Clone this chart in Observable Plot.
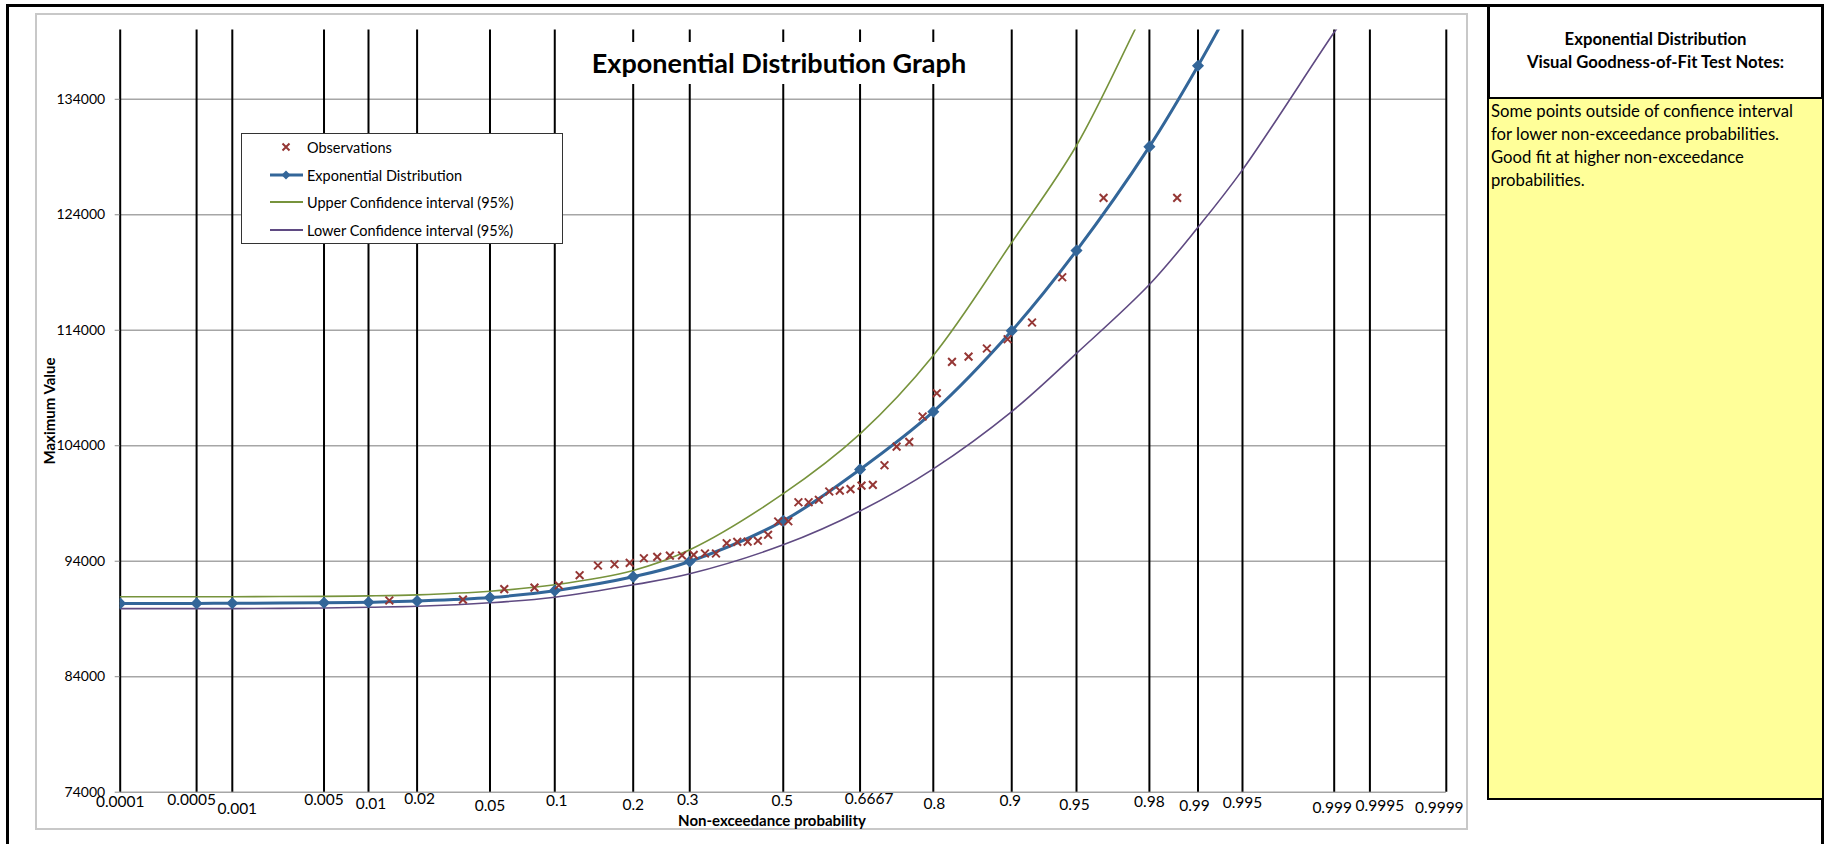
<!DOCTYPE html>
<html>
<head>
<meta charset="utf-8">
<script src="https://cdn.jsdelivr.net/npm/d3@7"></script>
<script src="https://cdn.jsdelivr.net/npm/@observablehq/plot@0.6"></script>
<style>
  html, body { margin: 0; padding: 0; background: #fff; }
  body { font-family: Lato, "Liberation Sans", sans-serif; color: #000; }
  #page { position: relative; width: 1825px; height: 844px; overflow: hidden; background: #fff; }
  #page > svg { position: absolute; left: 0; top: 0; }
  .abs { position: absolute; box-sizing: border-box; }
  .bar { position: absolute; background: #000; }
  #chartBorder { left: 35px; top: 13px; width: 1433px; height: 817px; border: 2px solid #c8c8c8; }
  #title { left: 576px; top: 42px; width: 406px; height: 42px; background: #fff;
           font-weight: 700; font-size: 27px; line-height: 42px; text-align: center; white-space: nowrap; }
  #legend { left: 241px; top: 133px; width: 322px; height: 111px; background: #fff; border: 1.5px solid #333; }
  .lrow { position: absolute; left: 28px; height: 20px; display: flex; align-items: center; font-size: 14.5px; white-space: nowrap; }
  .lrow svg { width: 35px; height: 20px; margin-right: 2px; flex: none; }
  #ytitle { left: 49px; top: 411px; transform: translate(-50%, -50%) rotate(-90deg); font-weight: 700; font-size: 15px; white-space: nowrap; }
  #xtitle { left: 772px; top: 820px; transform: translate(-50%, -50%); font-weight: 700; font-size: 15px; white-space: nowrap; }
  #notesHead { left: 1489px; top: 6px; width: 333px; height: 92px; font-weight: 700; font-size: 16.7px; text-align: center; line-height: 23px; padding-top: 22px; }
  #notes { left: 1489px; top: 99px; width: 333px; height: 699px; background: #ffff99; font-size: 16.7px; line-height: 23px; padding: 1px 0 0 2px; white-space: nowrap; }
</style>
</head>
<body>
<div id="page">
  <div class="abs" id="chartBorder"></div>
</div>
<script>
// Probability axis labels (non-exceedance probability, plotted on a normal-probability scale)
const tickLabels = ["0.0001", "0.0005", "0.001", "0.005", "0.01", "0.02", "0.05", "0.1", "0.2", "0.3",
  "0.5", "0.6667", "0.8", "0.9", "0.95", "0.98", "0.99", "0.995", "0.999", "0.9995", "0.9999"];

// Fitted exponential distribution quantiles at each labelled probability
const fitted = [90350, 90350, 90360, 90400, 90450, 90550, 90850, 91450, 92650, 93980,
  97500, 101950, 106950, 113950, 120900, 129900, 136900, 143900, null, null, null];

// 95% confidence bounds at the same probabilities
const upperCI = [90920, 90920, 90930, 90960, 91000, 91090, 91400, 91960, 93200, 94990,
  99850, 105030, 111810, 121600, 130000, 142500, 150000, null, null, null, null];
const lowerCI = [89900, 89900, 89900, 89950, 90020, 90100, 90400, 90880, 91960, 92910,
  95420, 98350, 102000, 106960, 112000, 117960, 122920, 127890, 139800, 144200, null];

// Observed annual maxima (sorted) and their plotting positions
const obsProb = [0.01357, 0.03620, 0.05882, 0.08145, 0.10407, 0.12670, 0.14932, 0.17195, 0.19457, 0.21719,
  0.23982, 0.26244, 0.28507, 0.30769, 0.33032, 0.35294, 0.37557, 0.39819, 0.42081, 0.44344,
  0.46606, 0.48869, 0.51131, 0.53394, 0.55656, 0.57919, 0.60181, 0.62443, 0.64706, 0.66968,
  0.69231, 0.71493, 0.73756, 0.76018, 0.78281, 0.80543, 0.82805, 0.85068, 0.87330, 0.89593,
  0.91855, 0.94118, 0.96380, 0.98643];
const obsValue = [90600, 90680, 91580, 91720, 91920, 92790, 93630, 93740, 93860, 94260,
  94380, 94480, 94500, 94550, 94670, 94670, 95560, 95680, 95700, 95770,
  96290, 97440, 97460, 99110, 99110, 99320, 100040, 100120, 100250, 100550,
  100610, 102310, 103930, 104340, 106530, 108550, 111260, 111720, 112420, 113220,
  114670, 118590, 125460, 125460];

const yTicks = [74000, 84000, 94000, 104000, 114000, 124000, 134000];

// Inverse of the standard normal CDF (Acklam's rational approximation)
function probit(p) {
  const a = [-39.69683028665376, 220.9460984245205, -275.9285104469687, 138.3577518672690, -30.66479806614716, 2.506628277459239];
  const b = [-54.47609879822406, 161.5858368580409, -155.6989798598866, 66.80131188771972, -13.28068155288572];
  const c = [-0.007784894002430293, -0.3223964580411365, -2.400758277161838, -2.549671664073906, 4.374664141464968, 2.938163982698783];
  const d = [0.007784695709041462, 0.3224671290700398, 2.445134137142996, 3.754408661907416];
  const plow = 0.02425;
  if (p < plow) {
    const q = Math.sqrt(-2 * Math.log(p));
    return (((((c[0]*q + c[1])*q + c[2])*q + c[3])*q + c[4])*q + c[5]) / ((((d[0]*q + d[1])*q + d[2])*q + d[3])*q + 1);
  }
  if (p > 1 - plow) {
    const q = Math.sqrt(-2 * Math.log(1 - p));
    return -(((((c[0]*q + c[1])*q + c[2])*q + c[3])*q + c[4])*q + c[5]) / ((((d[0]*q + d[1])*q + d[2])*q + d[3])*q + 1);
  }
  const q = p - 0.5, r = q * q;
  return (((((a[0]*r + a[1])*r + a[2])*r + a[3])*r + a[4])*r + a[5]) * q / (((((b[0]*r + b[1])*r + b[2])*r + b[3])*r + b[4])*r + 1);
}

const colors = { obs: "#953735", fit: "#336699", upper: "#77933c", lower: "#5f4a82" };

const ticks = tickLabels.map((label, i) => ({
  label, p: +label, z: probit(+label), fit: fitted[i], upper: upperCI[i], lower: lowerCI[i]
}));
const observations = obsProb.map((p, i) => ({ z: probit(p), value: obsValue[i] }));

// Staggered placement of the probability labels under the axis: [dx, dy] in pixels
const labelNudge = {
  "0.0001": [0, 14.5], "0.0005": [-5, 12.5], "0.001": [5, 22], "0.005": [0, 13], "0.01": [2.5, 17],
  "0.02": [2.5, 12], "0.05": [0, 18.5], "0.1": [2, 13.5], "0.2": [0, 17.5], "0.3": [-2, 12.5],
  "0.5": [-1, 13.5], "0.6667": [9, 12], "0.8": [1, 17], "0.9": [-1.5, 13.5], "0.95": [-2, 18],
  "0.98": [0, 14.5], "0.99": [-3.5, 18.5], "0.995": [0, 16], "0.999": [-2, 20.5],
  "0.9995": [10, 19], "0.9999": [-7, 20.5]
};

// One text mark per probability label, since dx/dy are constants per mark
const xLabelMarks = ticks.map((t) => Plot.text([t], {
  x: "z", text: "label", frameAnchor: "bottom", fontSize: 15.5, fill: "#000",
  dx: labelNudge[t.label][0], dy: labelNudge[t.label][1]
}));

const chart = Plot.plot({
  width: 1825,
  height: 844,
  marginLeft: 119.7,
  marginRight: 379.2,
  marginTop: 29.5,
  marginBottom: 52.3,
  style: { fontFamily: "Lato, 'Liberation Sans', sans-serif", fontSize: "14px", background: "transparent", color: "#000" },
  x: { domain: [probit(0.0001), probit(0.9999)], axis: null },
  y: { domain: [74000, 140000] },
  marks: [
    Plot.ruleY(yTicks, { stroke: "#a6a6a6", strokeWidth: 1.5 }),
    Plot.ruleX(ticks, { x: "z", stroke: "#000", strokeWidth: 2 }),
    Plot.axisY(yTicks, {
      tickSize: 5, tickPadding: 10, tickFormat: (d) => String(d),
      stroke: "#8c8c8c", fill: "#000", fontSize: 14, label: null
    }),
    ...xLabelMarks,
    Plot.line(ticks.filter((d) => d.upper != null), { x: "z", y: "upper", stroke: colors.upper, strokeWidth: 1.6, curve: "catmull-rom", clip: true }),
    Plot.line(ticks.filter((d) => d.lower != null), { x: "z", y: "lower", stroke: colors.lower, strokeWidth: 1.6, curve: "catmull-rom", clip: true }),
    Plot.line(ticks.filter((d) => d.fit != null), { x: "z", y: "fit", stroke: colors.fit, strokeWidth: 3, curve: "catmull-rom", clip: true }),
    Plot.dot(ticks.filter((d) => d.fit != null), { x: "z", y: "fit", symbol: "diamond2", r: 4.5, fill: colors.fit, stroke: colors.fit, clip: true }),
    Plot.dot(observations, { x: "z", y: "value", symbol: "times", r: 3.6, stroke: colors.obs, strokeWidth: 2 })
  ]
});

document.getElementById("page").appendChild(chart);
</script>
<script>
// Overlay: frame lines, title, legend, axis titles and the notes panel
(function () {
  const page = document.getElementById("page");
  const add = (html) => page.insertAdjacentHTML("beforeend", html);
  const bar = (l, t, w, h) => add(`<div class="bar" style="left:${l}px;top:${t}px;width:${w}px;height:${h}px"></div>`);
  bar(6, 4, 1818, 2.5);     // top
  bar(6, 4, 2.5, 840);      // left
  bar(1821, 4, 2.5, 840);   // right
  bar(1487, 4, 2.5, 795);   // panel divider
  bar(1487, 97, 336, 2.5);  // notes header rule
  bar(1487, 797, 336, 2.5); // notes bottom

  add(`<div class="abs" id="title">Exponential Distribution Graph</div>`);
  add(`<div class="abs" id="ytitle">Maximum Value</div>`);
  add(`<div class="abs" id="xtitle">Non-exceedance probability</div>`);

  const sw = {
    obs: `<svg viewBox="0 0 35 20"><path d="M12.5 6.5L19.5 13.5M19.5 6.5L12.5 13.5" stroke="${colors.obs}" stroke-width="2"/></svg>`,
    fit: `<svg viewBox="0 0 35 20"><line x1="0" y1="10" x2="33" y2="10" stroke="${colors.fit}" stroke-width="3"/><path d="M16 5.5L20.5 10L16 14.5L11.5 10Z" fill="${colors.fit}"/></svg>`,
    upper: `<svg viewBox="0 0 35 20"><line x1="0" y1="10" x2="33" y2="10" stroke="${colors.upper}" stroke-width="1.8"/></svg>`,
    lower: `<svg viewBox="0 0 35 20"><line x1="0" y1="10" x2="33" y2="10" stroke="${colors.lower}" stroke-width="1.8"/></svg>`
  };
  add(`<div class="abs" id="legend">
    <div class="lrow" style="top:3px">${sw.obs}Observations</div>
    <div class="lrow" style="top:31px">${sw.fit}Exponential Distribution</div>
    <div class="lrow" style="top:58px">${sw.upper}Upper Confidence interval (95%)</div>
    <div class="lrow" style="top:86px">${sw.lower}Lower Confidence interval (95%)</div>
  </div>`);

  add(`<div class="abs" id="notesHead">Exponential Distribution<br>Visual Goodness-of-Fit Test Notes:</div>`);
  add(`<div class="abs" id="notes">Some points outside of confience interval<br>for lower non-exceedance probabilities.<br>Good fit at higher non-exceedance<br>probabilities.</div>`);
})();
</script>
</body>
</html>
